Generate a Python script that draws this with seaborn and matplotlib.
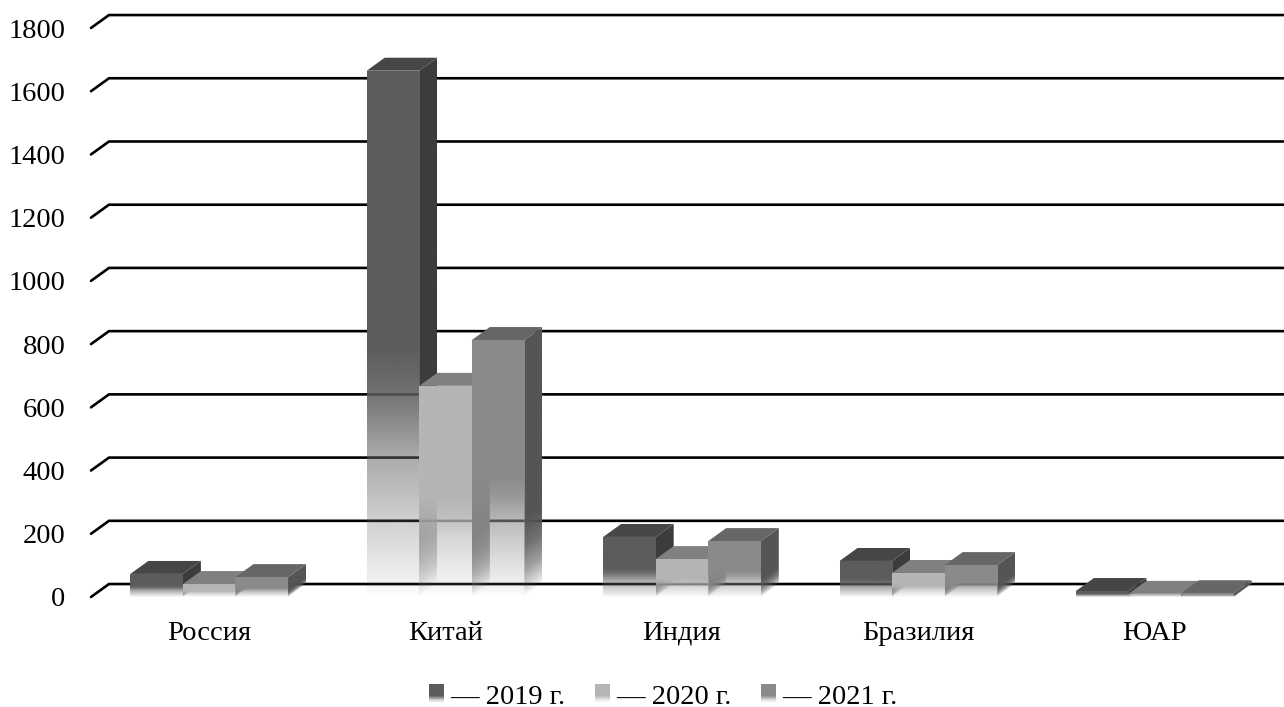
import numpy as np
import pandas as pd
import matplotlib
matplotlib.use('Agg')
import matplotlib.pyplot as plt
from matplotlib.colors import to_rgb
from matplotlib.legend_handler import HandlerPatch
from matplotlib.patches import Patch, Polygon, Rectangle
import seaborn as sns

# Values
countries = ['Россия', 'Китай', 'Индия', 'Бразилия', 'ЮАР']
years = ['— 2019 г.', '— 2020 г.', '— 2021 г.']
values_2019 = [73, 1665, 190, 114, 19]
values_2020 = [41, 668, 120, 76, 10]
values_2021 = [63, 813, 177, 101, 12]
y_ticks = [0, 200, 400, 600, 800, 1000, 1200, 1400, 1600, 1800]

front_colors = ['#5c5c5c', '#b5b5b5', '#8a8a8a']
side_colors = ['#3c3c3c', '#7c7c7c', '#555555']
top_colors = ['#464646', '#808080', '#666666']

W, H = 1284, 707
FS = 20.5
DX = 0.076   # bar depth in category units
DY = 41      # bar depth in value units

sns.set_theme(style='white')
plt.rcParams['font.family'] = ['Liberation Serif', 'DejaVu Serif']

df = pd.DataFrame({
    'country': countries * 3,
    'year': np.repeat(years, len(countries)),
    'value': values_2019 + values_2020 + values_2021,
})

fig = plt.figure(figsize=(W / 100, H / 100), dpi=100)
ax = fig.add_axes([91 / W, 1 - 597 / H, (1273 - 91) / W, (597 - 28) / H])
sns.barplot(data=df, x='country', y='value', hue='year', palette=front_colors,
            width=0.667, gap=0, saturation=1, legend=False, ax=ax)


def front_alpha(t):
    return np.interp(t, [0, .03, .146, .27, .39, .47], [0, .09, .29, .53, .88, 1])


def side_alpha(t):
    return np.interp(t, [0, .03, .1, .2, .3], [0, .2, .55, .85, 1])


def fade_image(x0, x1, y0, y1, color, alpha, zorder, clip):
    # rgba image whose transparency is given by alpha(x, y), clipped to a patch
    xx, yy = np.meshgrid(np.linspace(x0, x1, 60), np.linspace(y0, y1, 400))
    rgba = np.zeros(xx.shape + (4,))
    rgba[..., :3] = to_rgb(color)
    rgba[..., 3] = alpha(xx, yy)
    im = ax.imshow(rgba, extent=(x0, x1, y0, y1), origin='lower', aspect='auto',
                   interpolation='bilinear', zorder=zorder)
    clip.set_transform(ax.transData)
    im.set_clip_path(clip)


z = 3
for s, cont in enumerate(ax.containers):
    for bar in cont:
        x0, w, h = bar.get_x(), bar.get_width(), bar.get_height()
        x1 = x0 + w
        side = [(x1, 0), (x1 + DX, DY), (x1 + DX, h + DY), (x1, h)]
        fade_image(x1, x1 + DX, 0, h + DY, side_colors[s],
                   lambda xx, yy: side_alpha((yy - DY * (xx - x1) / DX) / h),
                   z, Polygon(side))
        ax.add_patch(Polygon([(x0, h), (x0 + DX, h + DY), (x1 + DX, h + DY), (x1, h)],
                             facecolor=top_colors[s], edgecolor='none', zorder=z + 1))
        fade_image(x0, x1, 0, h, front_colors[s],
                   lambda xx, yy: front_alpha(yy / h), z + 2,
                   Rectangle((x0, 0), w, h))
        bar.set_facecolor('none')
        bar.set_edgecolor('none')
        z += 3

# back wall lines with the short diagonal to the tick position
for v in y_ticks:
    ax.plot([-0.5, -0.5 + DX, 4.545], [v, v + DY, v + DY], color='black', lw=1.9,
            solid_joinstyle='miter', clip_on=False, zorder=1)

ax.set_xlim(-0.5, 4.5)
ax.set_ylim(0, 1800)
ax.set_yticks(y_ticks)
ax.set_xlabel('')
ax.set_ylabel('')
ax.tick_params(axis='y', length=0, pad=18.5, labelsize=FS, labelcolor='black')
ax.tick_params(axis='x', length=0, pad=17, labelsize=FS, labelcolor='black')
sns.despine(ax=ax, left=True, bottom=True)
ax.patch.set_alpha(0)


class FadeHandler(HandlerPatch):
    def create_artists(self, legend, orig, xd, yd, width, height, fontsize, trans):
        n = 15
        base = np.array(orig.get_facecolor()[:3])
        out = []
        for i in range(n):
            # solid at the top, fading to white over the lower third
            a = min(1, 2.6 * (n - i) / n)
            out.append(Rectangle((-xd, -yd + height * (n - 1 - i) / n), width, height / n + 0.4,
                                 facecolor=a * base + (1 - a), edgecolor='none',
                                 zorder=i, transform=trans))
        return out


handles = [Patch(facecolor=c) for c in front_colors]
fig.legend(handles, years, loc='center', bbox_to_anchor=(663 / W, 1 - 697 / H), ncols=3,
           frameon=False, fontsize=FS, labelcolor='black', handlelength=0.53, handleheight=0.53,
           handletextpad=0.2, columnspacing=1.05, borderpad=0,
           handler_map={Patch: FadeHandler()})

fig.savefig('out.png', dpi=100, facecolor='white')
